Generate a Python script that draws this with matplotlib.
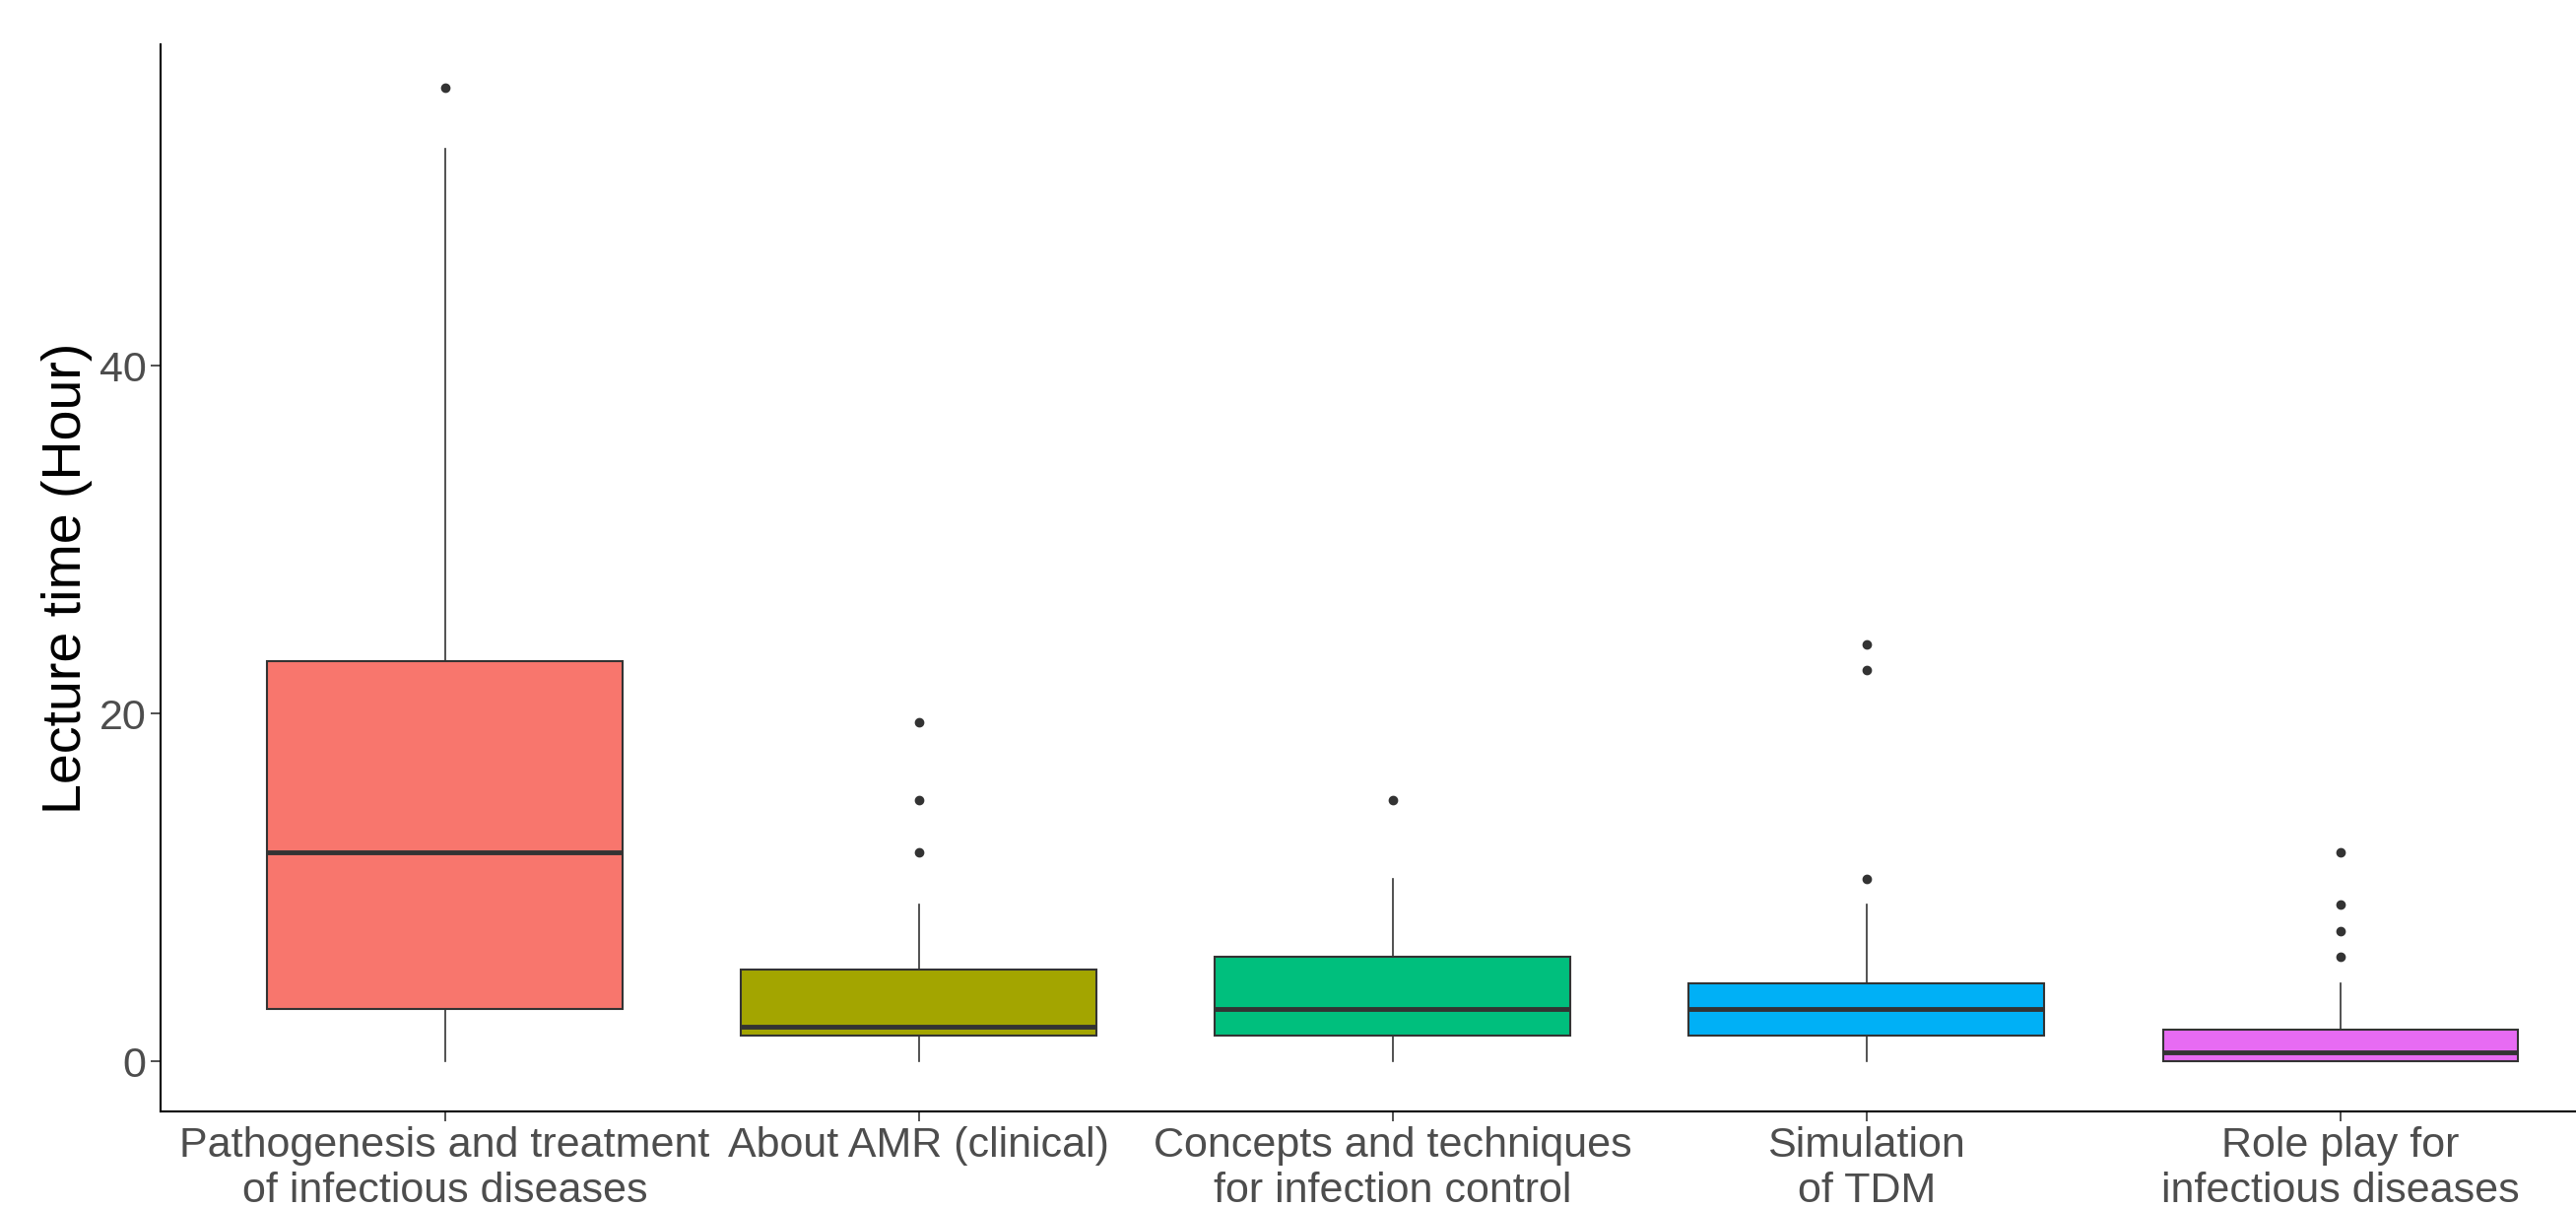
import matplotlib
matplotlib.use("Agg")
import matplotlib.pyplot as plt

# categorias (eixo x) e resumo dos boxplots
categorias = ["Pathogenesis and treatment\nof infectious diseases",
              "About AMR (clinical)",
              "Concepts and techniques\nfor infection control",
              "Simulation\nof TDM",
              "Role play for\ninfectious diseases"]
minimo = [0, 0, 0, 0, 0]
q1 = [3, 1.5, 1.5, 1.5, 0]
mediana = [12, 2, 3, 3, 0.5]
q3 = [23, 5.25, 6, 4.5, 1.8]
maximo = [52.5, 9, 10.5, 9, 4.5]
outliers = [[56], [12, 15, 19.5], [15], [10.5, 22.5, 24], [6, 7.5, 9, 12]]
cores = ["#F8766D", "#A3A500", "#00BF7D", "#00B0F6", "#E76BF3"]

plt.rcParams["font.family"] = ["Liberation Sans", "DejaVu Sans"]

fig = plt.figure(figsize=(26.15, 12.26), dpi=100)
ax = fig.add_axes([163 / 2615, 0.0799, 1 - 163 / 2615, 0.9633 - 0.0799])

# monta as estatisticas para o bxp
stats = []
for i in range(len(categorias)):
    stats.append({"whislo": minimo[i], "q1": q1[i], "med": mediana[i],
                  "q3": q3[i], "whishi": maximo[i], "fliers": outliers[i]})

bp = ax.bxp(stats, positions=range(1, 6), widths=0.75, patch_artist=True,
            showcaps=False,
            boxprops=dict(edgecolor="#333333", linewidth=1.5),
            medianprops=dict(color="#333333", linewidth=3.5),
            whiskerprops=dict(color="#333333", linewidth=1.2),
            flierprops=dict(marker="o", markerfacecolor="#333333",
                            markeredgecolor="#333333", markersize=6))
for caixa, cor in zip(bp["boxes"], cores):
    caixa.set_facecolor(cor)

ax.set_xlim(0.4, 5.497)
ax.set_ylim(-2.89, 58.5)
ax.set_yticks([0, 20, 40])
ax.set_xticks(range(1, 6))
ax.set_xticklabels(categorias)
ax.tick_params(axis="both", labelsize=31, labelcolor="#4D4D4D",
               color="#333333", length=7, width=1.2)
ax.set_ylabel("Lecture time (Hour)", fontsize=40, color="black", labelpad=5)

for lado in ["top", "right"]:
    ax.spines[lado].set_visible(False)
for lado in ["left", "bottom"]:
    ax.spines[lado].set_linewidth(1.5)
    ax.spines[lado].set_color("black")

fig.savefig("out.png", dpi=100)
